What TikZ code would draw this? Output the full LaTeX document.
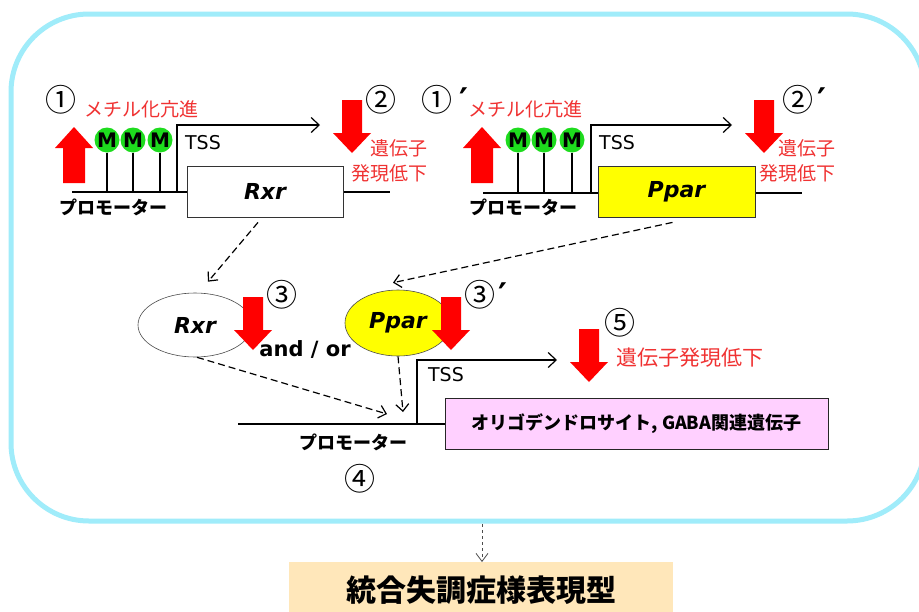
\documentclass[tikz,border=0pt]{standalone}
\usepackage{fontspec}
\setmainfont{DejaVu Sans}
\newfontfamily\jp{Noto Sans CJK JP}
\usetikzlibrary{arrows.meta,shapes.geometric}
\definecolor{framec}{RGB}{160,236,250}
\definecolor{arrred}{RGB}{255,0,0}
\definecolor{txtred}{RGB}{240,50,50}
\definecolor{mgreen}{RGB}{30,220,30}
\definecolor{ppary}{RGB}{255,255,0}
\definecolor{pinkb}{RGB}{255,208,255}
\definecolor{wheatb}{RGB}{255,231,186}
\begin{document}
\begin{tikzpicture}[x=1pt,y=-1pt,
  redtxt/.style={text=txtred,font=\jp\fontsize{19}{23}\selectfont,inner sep=0pt},
  promo/.style={font=\jp\bfseries\fontsize{18}{20}\selectfont,inner sep=0pt},
  num/.style={font=\jp\fontsize{31}{31}\selectfont,inner sep=0pt},
  primetxt/.style={font=\bfseries\fontsize{34}{34}\selectfont,inner sep=0pt},
  tsstxt/.style={font=\fontsize{19}{19}\selectfont,inner sep=0pt},
  mcirc/.style={circle,fill=mgreen,minimum size=25pt,inner sep=0pt,font=\bfseries\fontsize{20}{20}\selectfont},
  genebox/.style={draw=black!80,line width=0.8pt,minimum width=156pt,minimum height=51pt,inner sep=0pt,font=\bfseries\itshape\fontsize{22}{22}\selectfont},
  geneell/.style={ellipse,draw=black!70,line width=0.6pt,inner sep=0pt,font=\bfseries\itshape\fontsize{22}{22}\selectfont},
  dnaline/.style={line width=1.5pt},
  tssline/.style={line width=1.2pt,-{Straight Barb[length=8pt,width=15pt]}},
  dasharr/.style={line width=1.2pt,dash pattern=on 7pt off 4pt,-{Straight Barb[length=7pt,width=13pt]}},
  redup/.pic={\fill[arrred] (0,0) -- (-19,21) -- (-11,21) -- (-11,56) -- (11,56) -- (11,21) -- (19,21) -- cycle;},
  reddown/.pic={\fill[arrred] (0,0) -- (-19,-20) -- (-10,-20) -- (-10,-53) -- (10,-53) -- (10,-20) -- (19,-20) -- cycle;},
]
\useasboundingbox (0,0) rectangle (919,611);
\fill[white] (0,0) rectangle (919,611);
% frame
\draw[framec,line width=5pt,rounded corners=78pt] (11,14) rectangle (925,521);

% ---------- left gene ----------
\draw[dnaline] (72,192) -- (390,192);
\draw[tssline] (177,192) |- (320,125);
\node[mcirc] (m1) at (107,140) {M};
\node[mcirc] (m2) at (133,140) {M};
\node[mcirc] (m3) at (160,140) {M};
\foreach \m/\x in {m1/107,m2/133,m3/160} \draw[line width=1.2pt] (\m.south) -- (\x,192);
\node[genebox,fill=white] (rxrbox) at (265,191.5) {Rxr};
\node[tsstxt] (tss1) at (203,143) {TSS};
\node[promo] (pr1) at (113,207) {プロモーター};
\node[redtxt] (me1) at (141,109) {メチル化亢進};
\node[redtxt,anchor=east] (g1a) at (428,148) {遺伝子};
\node[redtxt,anchor=east] (g1b) at (428,173) {発現低下};
\pic at (74,127) {redup};
\pic at (352,153) {reddown};
\node[num] (n1) at (61,100) {①};
\node[num] (n2) at (381,100) {②};

% ---------- right gene ----------
\draw[dnaline] (483,193) -- (802,193);
\draw[tssline] (591,193) |- (732,125);
\node[mcirc] (m4) at (518,140) {M};
\node[mcirc] (m5) at (544,140) {M};
\node[mcirc] (m6) at (572,140) {M};
\foreach \m/\x in {m4/518,m5/544,m6/572} \draw[line width=1.2pt] (\m.south) -- (\x,193);
\node[genebox,fill=ppary,minimum width=157pt] (pparbox) at (676.5,191.5) {Ppar};
\node[tsstxt] (tss2) at (617,143) {TSS};
\node[promo] (pr2) at (523,207) {プロモーター};
\node[redtxt] (me2) at (525,109) {メチル化亢進};
\node[redtxt,anchor=east] (g2a) at (836,148) {遺伝子};
\node[redtxt,anchor=east] (g2b) at (836,173) {発現低下};
\pic at (482,127) {redup};
\pic at (764,153) {reddown};
\node[num] (n1p) at (437,100) {①};
\node[primetxt] (n1pp) at (464,100) {′};
\node[num] (n2p) at (798,100) {②};
\node[primetxt] (n2pp) at (822,100) {′};

% ---------- middle ----------
\node[geneell,fill=white,minimum width=114pt,minimum height=64pt] (rxrell) at (195,325) {Rxr};
\node[geneell,fill=ppary,minimum width=106pt,minimum height=66pt] (pparell) at (398,323) {Ppar};
\pic at (253,350) {reddown};
\pic at (451,350) {reddown};
\node[num] (n3) at (282,295) {③};
\node[num] (n3p) at (480,295) {③};
\node[primetxt] (n3pp) at (503,295) {′};
\node[font=\bfseries\fontsize{21}{21}\selectfont,inner sep=0pt] (andor) at (305,349) {and / or};

\draw[dasharr] ([shift={(-7,5)}]rxrbox.south) -- ([shift={(13,-11)}]rxrell.north);
\draw[dasharr] ([shift={(-4,5)}]pparbox.south) -- ([shift={(-5,-7)}]pparell.north);
\coordinate (tgt1) at (387,414);
\coordinate (tgt2) at (403,412);
\draw[dasharr] ([xshift=2pt]rxrell.south) -- (tgt1);
\draw[dasharr] (pparell.south) -- (tgt2);

% ---------- lower gene ----------
\draw[dnaline] (238,424) -- (445,424);
\draw[tssline] (417,424) |- (557,360);
\node[draw=black!85,line width=0.8pt,fill=pinkb,minimum width=383pt,minimum height=51pt,inner sep=0pt,font=\jp\bfseries\fontsize{18}{20}\selectfont] (target) at (636.5,423.5) {オリゴデンドロサイト, GABA関連遺伝子};
\node[tsstxt] (tss3) at (446,375) {TSS};
\node[promo] (pr3) at (353,442) {プロモーター};
\node[num] (n4) at (360,479) {④};
\pic at (589,382) {reddown};
\node[num] (n5) at (620,323) {⑤};
\node[redtxt,font=\jp\fontsize{21}{24}\selectfont,anchor=west] (g5) at (616,358) {遺伝子発現低下};

% ---------- phenotype ----------
\node[fill=wheatb,minimum width=384pt,minimum height=55pt,inner sep=0pt,anchor=north west,font=\jp\bfseries\fontsize{30}{32}\selectfont] (pheno) at (289,562) {統合失調症様表現型};
\coordinate (fb) at (482,524);
\draw[black!70,line width=0.8pt,dash pattern=on 3pt off 3pt,-{Straight Barb[length=8pt,width=12pt]}] (fb) -- (fb |- pheno.north);
\end{tikzpicture}
\end{document}
